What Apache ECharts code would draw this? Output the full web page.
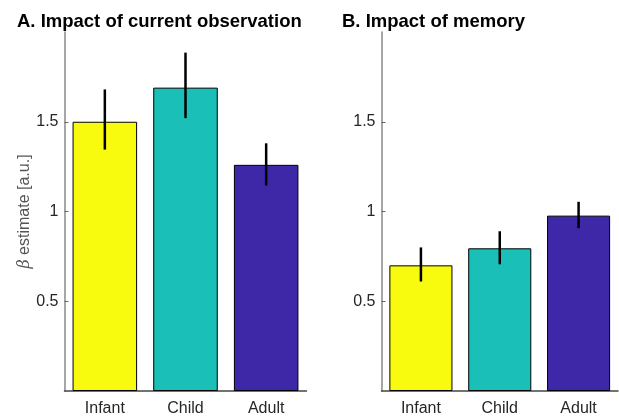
<!DOCTYPE html>
<html>
<head>
<meta charset="utf-8">
<script src="https://cdn.jsdelivr.net/npm/echarts@6/dist/echarts.min.js"></script>
<style>
html,body{margin:0;padding:0;background:#fff;}
#c{width:619px;height:417px;}
</style>
</head>
<body>
<div id="c"></div>
<script>
var categories = ['Infant', 'Child', 'Adult'];
var barColors = ['#F9FB0E', '#1ABFB7', '#3E28A8'];
var yTicks = [0.5, 1, 1.5];

var obsMeans = [1.50, 1.69, 1.26];
var obsLow   = [1.345, 1.52, 1.145];
var obsHigh  = [1.68, 1.885, 1.38];

var memMeans = [0.70, 0.795, 0.977];
var memLow   = [0.61, 0.706, 0.907];
var memHigh  = [0.80, 0.89, 1.054];

var FONT = '"Liberation Sans", Arial, Helvetica, sans-serif';
var chart = echarts.init(document.getElementById('c'), null, {renderer: 'canvas'});

function xAxisCfg(gi) {
  return {
    type: 'category', gridIndex: gi, data: categories,
    axisLine: {lineStyle: {color: '#444', width: 1.5}},
    axisTick: {show: true, inside: true, alignWithLabel: true, length: 4, lineStyle: {color: '#444', width: 1}},
    axisLabel: {color: '#262626', fontFamily: FONT, fontSize: 16, margin: 10}
  };
}
function yAxisCfg(gi, name) {
  return {
    type: 'value', gridIndex: gi, min: 0, max: 2, interval: 0.5,
    name: name || '', nameLocation: 'middle', nameGap: 32,
    nameTextStyle: {color: '#555', fontFamily: FONT, fontSize: 16, rich: {b: {fontStyle: 'italic', fontFamily: '"DejaVu Serif", serif', fontSize: 16, color: '#555'}}},
    splitLine: {show: false},
    axisLine: {show: true, lineStyle: {color: '#888', width: 1.5}},
    axisTick: {show: true, inside: true, length: 4, customValues: yTicks, lineStyle: {color: '#666', width: 1}},
    axisLabel: {color: '#262626', fontFamily: FONT, fontSize: 16, margin: 6, customValues: yTicks,
      formatter: function (v) { return String(v); }}
  };
}
function barSeries(gi, means) {
  return {
    type: 'bar', xAxisIndex: gi, yAxisIndex: gi, barWidth: '80%',
    data: means.map(function (v, i) {
      return {value: v, itemStyle: {color: barColors[i], borderColor: '#000', borderWidth: 1}};
    }),
    silent: true, animation: false
  };
}
function errSeries(gi, low, high) {
  return {
    type: 'custom', xAxisIndex: gi, yAxisIndex: gi, silent: true, animation: false, z: 10,
    data: low.map(function (l, i) { return [i, l, high[i]]; }),
    renderItem: function (params, api) {
      var p1 = api.coord([api.value(0), api.value(1)]);
      var p2 = api.coord([api.value(0), api.value(2)]);
      return {type: 'line', shape: {x1: p1[0], y1: p1[1], x2: p2[0], y2: p2[1]},
        style: {stroke: '#000', lineWidth: 2.5}};
    }
  };
}

chart.setOption({
  animation: false,
  title: [
    {text: 'A. Impact of current observation', left: 17, top: 12, padding: 0,
      textStyle: {fontFamily: FONT, fontSize: 18.5, fontWeight: 'bold', color: '#000'}},
    {text: 'B. Impact of memory', left: 342, top: 12, padding: 0,
      textStyle: {fontFamily: FONT, fontSize: 18.5, fontWeight: 'bold', color: '#000'}}
  ],
  grid: [
    {left: 64.5, right: 312.5, top: 32, bottom: 24.5},
    {left: 381.5, right: 1, top: 32, bottom: 24.5}
  ],
  xAxis: [xAxisCfg(0), xAxisCfg(1)],
  yAxis: [yAxisCfg(0, '{b|β} estimate [a.u.]'), yAxisCfg(1)],
  series: [
    barSeries(0, obsMeans), errSeries(0, obsLow, obsHigh),
    barSeries(1, memMeans), errSeries(1, memLow, memHigh)
  ]
});
</script>
</body>
</html>
